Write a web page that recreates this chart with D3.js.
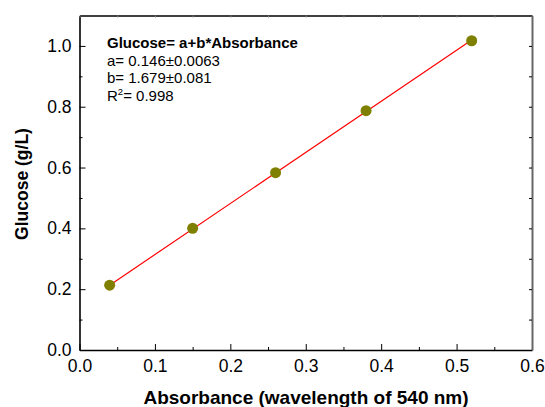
<!DOCTYPE html>
<html>
<head>
<meta charset="utf-8">
<script src="https://cdn.jsdelivr.net/npm/d3@7"></script>
<style>
  body { margin: 0; background: #fff; }
  text { font-family: "Liberation Sans", Arial, sans-serif; }
</style>
</head>
<body>
<svg id="chart" width="545" height="407"></svg>
<script>
// data
var absorbance = [0.04, 0.15, 0.26, 0.38, 0.52];
var glucose = [0.213, 0.400, 0.583, 0.787, 1.017];
var fitA = 0.146, fitB = 1.679;
var xTicks = [0.0, 0.1, 0.2, 0.3, 0.4, 0.5, 0.6];
var yTicks = [0.0, 0.2, 0.4, 0.6, 0.8, 1.0];
var notes = ["a= 0.146\u00b10.0063", "b= 1.679\u00b10.081"];

var svg = d3.select("#chart");
var plotLeft = 79.5, plotRight = 532, plotTop = 15.5, plotBottom = 350;

var x = d3.scaleLinear().domain([0, 0.6]).range([plotLeft, plotRight]);
var y = d3.scaleLinear().domain([0, 1.1]).range([plotBottom, plotTop]);

// minor ticks at the half steps
var xMinor = d3.range(0.05, 0.6, 0.1);
var yMinor = d3.range(0.1, 1.1, 0.2);

// bottom axis
var gx = svg.append("g").attr("transform", "translate(0," + plotBottom + ")")
  .call(d3.axisBottom(x).tickValues(xTicks).tickFormat(d3.format(".1f")).tickSizeInner(-6).tickSizeOuter(0).tickPadding(10));
gx.select(".domain").attr("stroke", "#000").attr("stroke-width", 1.6);
gx.selectAll("text").attr("font-size", 17.5).attr("fill", "#000");
svg.append("g").attr("transform", "translate(0," + plotBottom + ")")
  .call(d3.axisBottom(x).tickValues(xMinor).tickFormat("").tickSize(-3))
  .select(".domain").remove();

// left axis
var gy = svg.append("g").attr("transform", "translate(" + plotLeft + ",0)")
  .call(d3.axisLeft(y).tickValues(yTicks).tickFormat(d3.format(".1f")).tickSizeInner(-6).tickSizeOuter(0).tickPadding(8));
gy.select(".domain").attr("stroke", "#000").attr("stroke-width", 1.6);
gy.selectAll("text").attr("font-size", 17.5).attr("fill", "#000");
svg.append("g").attr("transform", "translate(" + plotLeft + ",0)")
  .call(d3.axisLeft(y).tickValues(yMinor).tickFormat("").tickSize(-3))
  .select(".domain").remove();

// top axis, no labels
var gt = svg.append("g").attr("transform", "translate(0," + plotTop + ")")
  .call(d3.axisTop(x).tickValues(xMinor.concat(xTicks)).tickFormat("").tickSizeInner(-2).tickSizeOuter(0));
gt.select(".domain").attr("stroke-width", 1.4);
gt.selectAll(".tick line").attr("stroke", "#888");

// right axis, no labels
var gr = svg.append("g").attr("transform", "translate(" + plotRight + ",0)")
  .call(d3.axisRight(y).tickValues(yMinor.concat(yTicks)).tickFormat("").tickSizeInner(-3).tickSizeOuter(0));
gr.select(".domain").attr("stroke", "#666").attr("stroke-width", 2);

// fit line
svg.append("line")
  .attr("x1", x(absorbance[0])).attr("y1", y(fitA + fitB * absorbance[0]))
  .attr("x2", x(absorbance[absorbance.length - 1])).attr("y2", y(fitA + fitB * absorbance[absorbance.length - 1]))
  .attr("stroke", "#ff0000").attr("stroke-width", 1.2);

// points
svg.selectAll("circle.pt")
  .data(absorbance)
  .enter().append("circle")
  .attr("class", "pt")
  .attr("cx", function(d) { return x(d); })
  .attr("cy", function(d, i) { return y(glucose[i]); })
  .attr("r", 5.5)
  .attr("fill", "#808000");

// annotation
var note = svg.append("g").attr("transform", "translate(107,0)");
note.append("text").attr("y", 48).attr("font-size", 15).attr("font-weight", "bold").text("Glucose= a+b*Absorbance");
notes.forEach(function(s, i) {
  note.append("text").attr("y", 66 + i * 17.3).attr("font-size", 15).text(s);
});
var r2 = note.append("text").attr("y", 101).attr("font-size", 15);
r2.append("tspan").text("R");
r2.append("tspan").attr("font-size", 9.5).attr("dy", -6.5).text("2");
r2.append("tspan").attr("dy", 6.5).text("= 0.998");

// axis titles
svg.append("text")
  .attr("x", 306).attr("y", 404)
  .attr("text-anchor", "middle").attr("font-size", 19).attr("font-weight", "bold")
  .text("Absorbance (wavelength of 540 nm)");
svg.append("text")
  .attr("transform", "translate(27.5," + 184 + ") rotate(-90)")
  .attr("text-anchor", "middle").attr("font-size", 17.5).attr("font-weight", "bold")
  .text("Glucose (g/L)");
</script>
</body>
</html>
